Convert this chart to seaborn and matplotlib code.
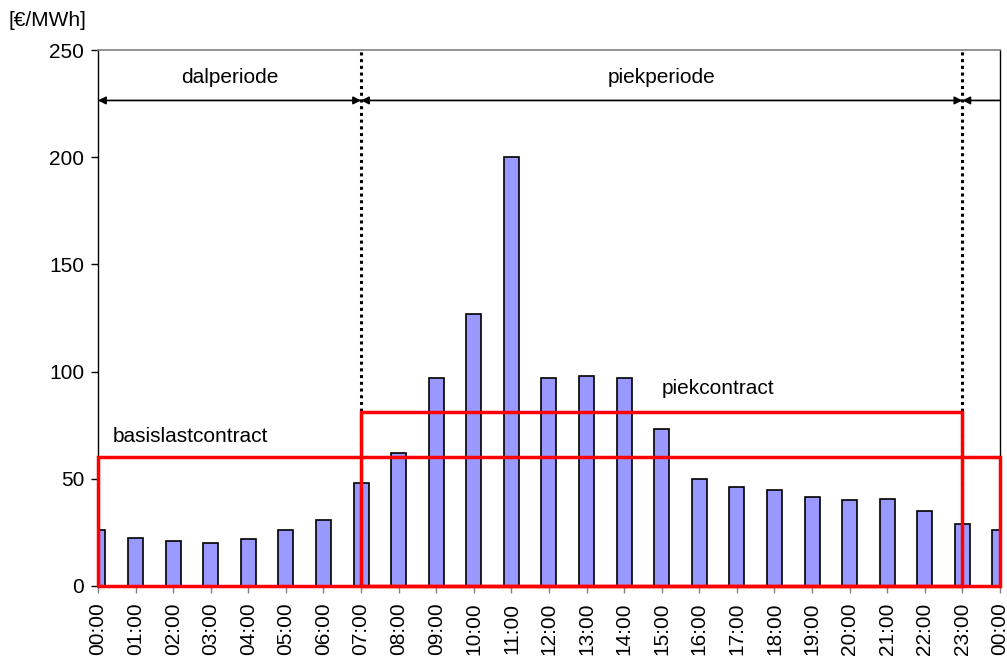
import matplotlib
matplotlib.use("Agg")
import matplotlib.pyplot as plt
import seaborn as sns
import pandas as pd

hours = ["00:00", "01:00", "02:00", "03:00", "04:00", "05:00", "06:00", "07:00",
         "08:00", "09:00", "10:00", "11:00", "12:00", "13:00", "14:00", "15:00",
         "16:00", "17:00", "18:00", "19:00", "20:00", "21:00", "22:00", "23:00", "00:00"]
prices = [26, 22.5, 21, 20, 22, 26, 30.5, 48, 62, 97, 127, 200, 97, 98, 97, 73,
          50, 46, 44.5, 41.5, 40, 40.5, 35, 29, 26]
base_level = 60
peak_level = 81
peak_start, peak_end = 7, 23
period_line_y = 226.5
yticks = [0, 50, 100, 150, 200, 250]

sns.set_theme(style="white")
plt.rcParams['font.family'] = ['Liberation Sans', 'DejaVu Sans']
plt.rcParams['text.color'] = 'black'
plt.rcParams['xtick.labelcolor'] = 'black'
plt.rcParams['ytick.labelcolor'] = 'black'

df = pd.DataFrame({"pos": list(range(len(hours))), "price": prices})

fig = plt.figure(figsize=(10.07, 6.59), dpi=100)
ax = fig.add_axes([0.0973, 0.111, 0.8957, 0.813])

sns.barplot(data=df, x="pos", y="price", ax=ax, color="#9999FF", saturation=1,
            width=0.4, edgecolor="black", linewidth=1.2, native_scale=True, zorder=2)

FS = 15
ax.set_xlim(0, 24)
ax.set_ylim(0, 250)
ax.set_xticks(range(len(hours)))
ax.set_xticklabels(hours, rotation=90, fontsize=FS, color="black")
ax.set_yticks(yticks)
ax.set_yticklabels([str(v) for v in yticks], fontsize=FS, color="black")
ax.set_xlabel("")
ax.set_ylabel("")
ax.tick_params(axis="x", direction="out", length=5, width=1, color="#808080", bottom=True, pad=7)
ax.tick_params(axis="y", direction="out", length=5, width=1, color="black", left=True, pad=5)

for s in ["left", "right", "bottom"]:
    ax.spines[s].set_color("black")
    ax.spines[s].set_linewidth(1)
ax.spines["top"].set_color("#808080")
ax.spines["top"].set_linewidth(1.2)

# red contract rectangles
ax.plot([0, 24, 24, 0, 0], [0, 0, base_level, base_level, 0], color="#FF0000", lw=2.5,
        zorder=4, clip_on=False, solid_joinstyle="miter")
ax.plot([peak_start, peak_end, peak_end, peak_start, peak_start],
        [0, 0, peak_level, peak_level, 0], color="#FF0000", lw=2.5, zorder=4,
        clip_on=False, solid_joinstyle="miter")

# dotted period boundaries
for xv in [peak_start, peak_end]:
    ax.plot([xv, xv], [0, 250], color="black", lw=2.2, linestyle=(0, (1, 1.2)), zorder=3)

# period line with arrows
ax.plot([0, 24], [period_line_y, period_line_y], color="black", lw=1, zorder=3)
for (a, b, style) in [(0, peak_start, "<|-|>"), (peak_start, peak_end, "<|-|>"),
                      (peak_end, 24, "<|-")]:
    ax.annotate("", xy=(b, period_line_y), xytext=(a, period_line_y),
                arrowprops=dict(arrowstyle=style, color="black", lw=1,
                                mutation_scale=12, shrinkA=0, shrinkB=0), zorder=3)

ax.text(3.5, 237, "dalperiode", ha="center", va="center", fontsize=FS)
ax.text(15.0, 237, "piekperiode", ha="center", va="center", fontsize=FS)
ax.text(15.0, 92, "piekcontract", ha="left", va="center", fontsize=FS)
ax.text(0.38, 69.5, "basislastcontract", ha="left", va="center", fontsize=FS)

fig.text(8 / 1007, 1 - 20 / 659, "[€/MWh]", ha="left", va="center", fontsize=FS)

fig.savefig("out.png", dpi=100)
